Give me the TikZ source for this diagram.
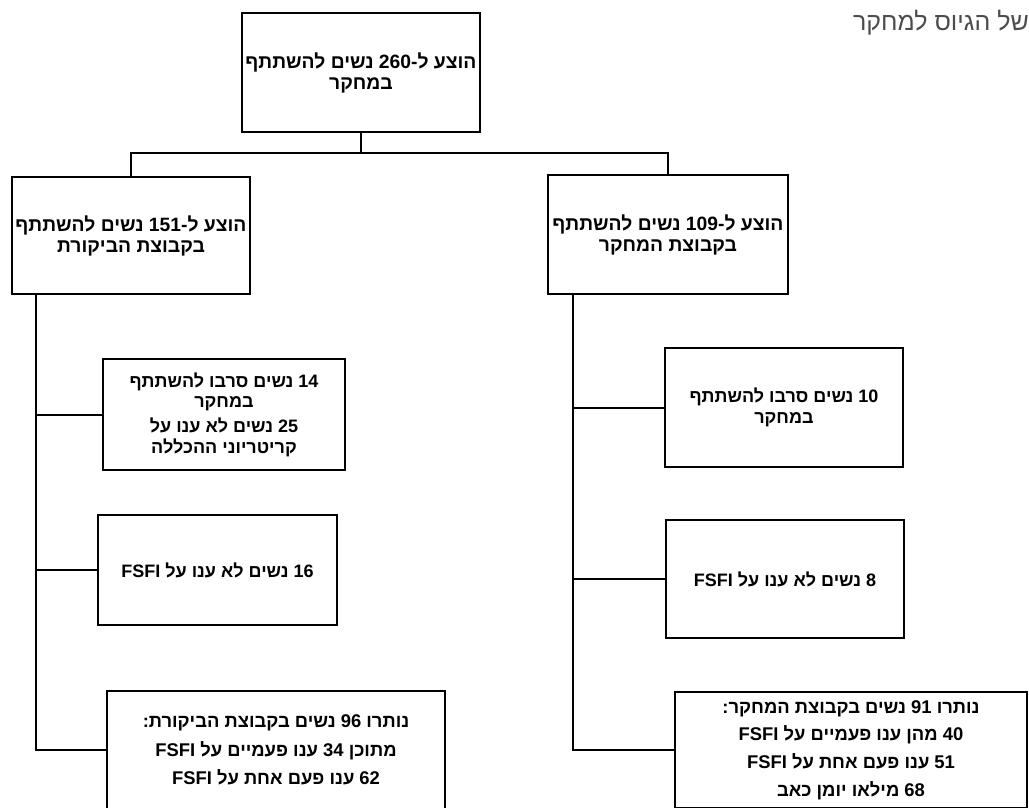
\documentclass[tikz,border=0pt]{standalone}
\usepackage{fontspec}
\setmainfont{Liberation Sans}
\newfontfamily\hebfont[Script=Hebrew]{Liberation Sans}
\newfontfamily\hebbold[Script=Hebrew]{Liberation Sans Bold}
\TeXXeTstate=1
\newcommand{\heb}[1]{\beginR #1\endR}
\newcommand{\ltr}[1]{\beginL #1\endL{}}
\tikzset{
  box/.style 2 args={draw, line width=2pt, align=center, inner sep=2pt,
    font=\hebbold\fontsize{#1}{#2}\selectfont},
  link/.style={line width=2pt},
}
\begin{document}
\begin{tikzpicture}[x=1pt,y=-1pt]
\useasboundingbox (0,0) rectangle (1029,807);
\clip (0,0) rectangle (1029,807);
% caption cut at the page edge
\node[anchor=east, inner sep=0pt, text=black!70, font=\hebfont\fontsize{25}{28}\selectfont] (caption) at (1029,23) {\heb{של הגיוס למחקר}};
% top and the two groups
\node[box={19.3}{21}, minimum width=238pt, minimum height=119pt] (all) at (361,72.5) {\heb{הוצע ל-\ltr{260} נשים להשתתף}\\\heb{במחקר}};
\node[box={19.3}{21}, minimum width=238pt, minimum height=117pt] (ctrl) at (131,235.5) {\heb{הוצע ל-\ltr{151} נשים להשתתף}\\\heb{בקבוצת הביקורת}};
\node[box={19.3}{21}, minimum width=240pt, minimum height=119pt] (study) at (668,234.5) {\heb{הוצע ל-\ltr{109} נשים להשתתף}\\\heb{בקבוצת המחקר}};
% control side
\node[box={18}{20.5}, minimum width=242pt, minimum height=111pt] (ctrlout) at (224,414.5) {\heb{\ltr{14} נשים סרבו להשתתף}\\\heb{במחקר}\\[4.5pt]\heb{\ltr{25} נשים לא ענו על}\\\heb{קריטריוני ההכללה}};
\node[box={18}{21}, minimum width=239pt, minimum height=110pt] (ctrlfsfi) at (217.5,570) {\heb{\ltr{16} נשים לא ענו על \ltr{FSFI}}};
\node[box={18.4}{28.5}, minimum width=338pt, minimum height=118pt] (ctrlleft) at (276,750) {\heb{נותרו \ltr{96} נשים בקבוצת הביקורת:}\\\heb{מתוכן \ltr{34} ענו פעמיים על \ltr{FSFI}}\\\heb{\ltr{62} ענו פעם אחת על \ltr{FSFI}}};
% study side
\node[box={18}{20.5}, minimum width=238pt, minimum height=119pt] (studyout) at (784,407.5) {\heb{\ltr{10} נשים סרבו להשתתף}\\\heb{במחקר}};
\node[box={18}{21}, minimum width=238pt, minimum height=118pt] (studyfsfi) at (785,579) {\heb{\ltr{8} נשים לא ענו על \ltr{FSFI}}};
\node[box={18.4}{27.7}, minimum width=352pt, minimum height=116pt] (studyleft) at (851,750) {\heb{נותרו \ltr{91} נשים בקבוצת המחקר:}\\\heb{\ltr{40} מהן ענו פעמיים על \ltr{FSFI}}\\\heb{\ltr{51} ענו פעם אחת על \ltr{FSFI}}\\\heb{\ltr{68} מילאו יומן כאב}};
% connectors
\draw[link] (all.south) -- ++(0,20) -| (ctrl.north);
\draw[link] (all.south) -- ++(0,20) -| (study.north);
\draw[link] ([xshift=25pt]ctrl.south west) |- (ctrlout.west);
\draw[link] ([xshift=25pt]ctrl.south west) |- (ctrlfsfi.west);
\draw[link] ([xshift=25pt]ctrl.south west) |- (ctrlleft.west);
\draw[link] ([xshift=26pt]study.south west) |- (studyout.west);
\draw[link] ([xshift=26pt]study.south west) |- (studyfsfi.west);
\draw[link] ([xshift=26pt]study.south west) |- (studyleft.west);
\end{tikzpicture}
\end{document}
